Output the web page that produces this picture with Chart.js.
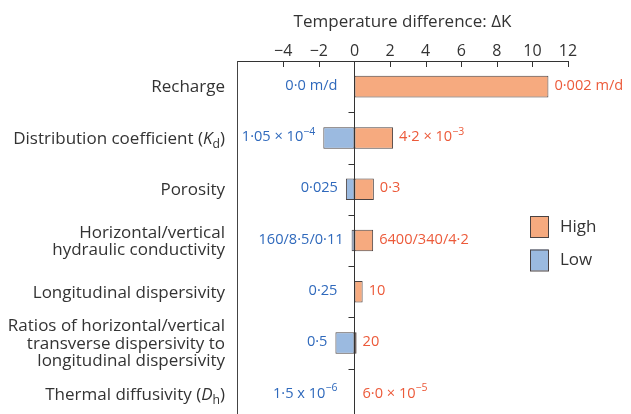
<!DOCTYPE html>
<html>
<head>
<meta charset="utf-8">
<script src="https://cdn.jsdelivr.net/npm/chart.js@4"></script>
<style>
html,body{margin:0;padding:0;background:#fff;overflow:hidden;}
#wrap{width:631px;height:420px;}
</style>
</head>
<body>
<div id="wrap"><canvas id="c" width="631" height="420"></canvas></div>
<script>
// ---- data ----
const categories = [
  ["Recharge"],
  ["Distribution coefficient (*K*_{d})"],
  ["Porosity"],
  ["Horizontal/vertical", "hydraulic conductivity"],
  ["Longitudinal dispersivity"],
  ["Ratios of horizontal/vertical", "transverse dispersivity to", "longitudinal dispersivity"],
  ["Thermal diffusivity (*D*_{h})"]
];
const highValues = [10.9, 2.17, 1.09, 1.05, 0.46, 0.12, 0];
const lowValues  = [0, -1.75, -0.48, -0.16, 0, -1.07, 0];
const highLabels = ["0·002 m/d", "4·2 × 10^{−3}", "0·3", "6400/340/4·2", "10", "20", "6·0 × 10^{−5}"];
const lowLabels  = ["0·0 m/d", "1·05 × 10^{−4}", "0·025", "160/8·5/0·11", "0·25", "0·5", "1·5 x 10^{−6}"];
const xTicks = [-4, -2, 0, 2, 4, 6, 8, 10, 12];
const seriesNames = ["High", "Low"];

const FONT = '"Open Sans", "Noto Sans", sans-serif';
const TXT = '#333333';
const HIGH_FILL = '#F6AA7F', LOW_FILL = '#9BBAE0', BAR_EDGE = '#4a4242';
const HIGH_TXT = '#EC5A3A', LOW_TXT = '#2F69BC';

function parseRich(s) {
  const re = /\*([^*]+)\*|\^\{([^}]*)\}|_\{([^}]*)\}|([^*^_]+)/g;
  const out = []; let m;
  while ((m = re.exec(s)) !== null) {
    if (m[1] !== undefined) out.push({t: m[1], k: 'i'});
    else if (m[2] !== undefined) out.push({t: m[2], k: 'sup'});
    else if (m[3] !== undefined) out.push({t: m[3], k: 'sub'});
    else out.push({t: m[4], k: 'n'});
  }
  return out;
}
function segFont(k, size) {
  if (k === 'i') return 'italic ' + size + 'px ' + FONT;
  if (k === 'sup' || k === 'sub') return (size * 0.72).toFixed(1) + 'px ' + FONT;
  return size + 'px ' + FONT;
}
function drawRich(ctx, s, x, y, align, size, color) {
  const segs = parseRich(s);
  let w = 0;
  segs.forEach(g => { ctx.font = segFont(g.k, size); g.w = ctx.measureText(g.t).width; w += g.w; });
  let cx = align === 'right' ? x - w : (align === 'center' ? x - w / 2 : x);
  ctx.fillStyle = color; ctx.textBaseline = 'middle'; ctx.textAlign = 'left';
  segs.forEach(g => {
    ctx.font = segFont(g.k, size);
    let dy = 0;
    if (g.k === 'sup') dy = -size * 0.36;
    if (g.k === 'sub') dy = size * 0.3;
    ctx.fillText(g.t, cx, y + dy);
    cx += g.w;
  });
}

const decor = {
  id: 'decor',
  afterDatasetsDraw(chart) {
    const ctx = chart.ctx, a = chart.chartArea;
    const xs = chart.scales.x, ys = chart.scales.y;
    const x0 = xs.getPixelForValue(0);
    ctx.save();
    ctx.strokeStyle = TXT; ctx.lineWidth = 1;
    // inward tick marks on top axis
    xTicks.forEach(v => {
      if (v === 0) return;
      const px = Math.round(xs.getPixelForValue(v)) + 0.5;
      ctx.beginPath(); ctx.moveTo(px, a.top); ctx.lineTo(px, a.top + 6); ctx.stroke();
    });
    // zero line
    const zx = Math.round(x0) + 0.5;
    ctx.beginPath(); ctx.moveTo(zx, a.top); ctx.lineTo(zx, a.bottom); ctx.stroke();
    // category separator ticks on zero line
    for (let i = 1; i < categories.length; i++) {
      const py = Math.round((ys.getPixelForValue(i - 1) + ys.getPixelForValue(i)) / 2) + 0.5;
      ctx.beginPath(); ctx.moveTo(zx - 6, py); ctx.lineTo(zx, py); ctx.stroke();
    }
    // category labels
    categories.forEach((lines, i) => {
      const cy = ys.getPixelForValue(i) + 1;
      const lh = 17.5;
      lines.forEach((ln, j) => {
        const yy = cy + (j - (lines.length - 1) / 2) * lh;
        drawRich(ctx, ln, a.left - 12, yy, 'right', 17, TXT);
      });
    });
    // value labels
    categories.forEach((_, i) => {
      const cy = ys.getPixelForValue(i) - 1;
      const hv = highValues[i], lv = lowValues[i];
      const hx = xs.getPixelForValue(Math.max(hv, 0)) + (hv > 0 ? 6 : 8);
      const lx = xs.getPixelForValue(Math.min(lv, 0)) - (lv < 0 ? 8 : 17);
      drawRich(ctx, highLabels[i], hx, cy, 'left', 14.6, HIGH_TXT);
      drawRich(ctx, lowLabels[i], lx, cy, 'right', 14.6, LOW_TXT);
    });
    // legend
    const lx0 = a.left + 293, ly0 = 216;
    [[HIGH_FILL, seriesNames[0]], [LOW_FILL, seriesNames[1]]].forEach((it, k) => {
      const by = ly0 + k * 33.5;
      ctx.fillStyle = it[0]; ctx.fillRect(lx0, by, 18, 21);
      ctx.strokeStyle = BAR_EDGE; ctx.strokeRect(lx0 + 0.5, by + 0.5, 18, 21);
      ctx.fillStyle = TXT; ctx.font = '17px ' + FONT; ctx.textBaseline = 'middle'; ctx.textAlign = 'left';
      ctx.fillText(it[1], lx0 + 30, by + 11);
    });
    ctx.restore();
  }
};

new Chart(document.getElementById('c'), {
  type: 'bar',
  data: {
    labels: categories,
    datasets: [
      { label: seriesNames[0], data: highValues, backgroundColor: HIGH_FILL, borderColor: BAR_EDGE, borderWidth: 1, borderSkipped: false },
      { label: seriesNames[1], data: lowValues, backgroundColor: LOW_FILL, borderColor: BAR_EDGE, borderWidth: 1, borderSkipped: false }
    ]
  },
  options: {
    indexAxis: 'y',
    responsive: false,
    animation: false,
    devicePixelRatio: 1,
    barPercentage: 0.42,
    categoryPercentage: 1,
    layout: { padding: { left: 0, right: 63, top: 0, bottom: 0 } },
    plugins: { legend: { display: false }, tooltip: { enabled: false } },
    scales: {
      x: {
        position: 'top',
        stacked: true,
        min: -6.6, max: 12,
        afterBuildTicks(s) { s.ticks = xTicks.map(v => ({ value: v })); },
        afterFit(s) { s.height = 61; },
        grid: { display: false, drawTicks: false },
        border: { display: true, color: TXT, width: 1 },
        ticks: {
          color: TXT, font: { family: FONT, size: 16 }, padding: 0,
          callback: v => (v < 0 ? '\u2212' + Math.abs(v) : String(v))
        },
        title: { display: true, text: 'Temperature difference: ΔK', color: TXT, font: { family: FONT, size: 17 }, padding: { top: 12, bottom: 0 } }
      },
      y: {
        stacked: true,
        afterFit(s) { s.width = 237; },
        grid: { display: false, drawTicks: false },
        border: { display: true, color: '#444', width: 1 },
        ticks: { display: false }
      }
    }
  },
  plugins: [decor]
});
</script>
</body>
</html>
